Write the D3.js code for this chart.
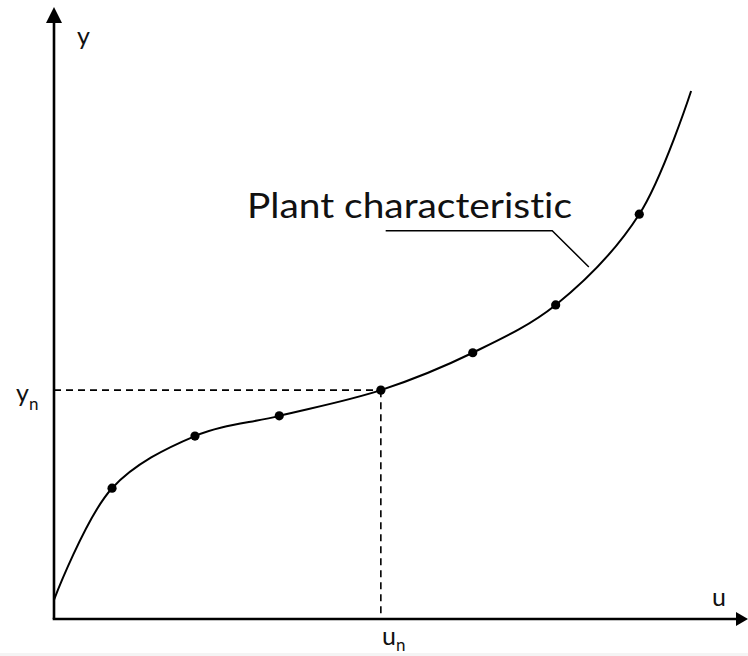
<!DOCTYPE html>
<html>
<head>
<meta charset="utf-8">
<script src="https://cdn.jsdelivr.net/npm/d3@7"></script>
<style>
  html, body { margin: 0; padding: 0; background: #fff; }
  svg { display: block; }
  text { font-family: Lato, "Open Sans", sans-serif; fill: #111;
         font-variant-ligatures: none; font-feature-settings: "liga" 0, "clig" 0; }
</style>
</head>
<body>
<svg id="chart" width="748" height="656"></svg>
<script>
// ---- data (arbitrary units 0..100 on both axes) ----
const curveU = [0, 8.4, 20.4, 32.6, 47.3, 60.6, 72.6, 84.7, 92.2];
const curveY = [3.3, 21.5, 30.0, 33.3, 37.5, 43.6, 51.4, 66.2, 86.3];
const dotU = [8.4, 20.4, 32.6, 47.3, 60.6, 72.6, 84.7];
const dotY = [21.5, 30.0, 33.3, 37.5, 43.6, 51.4, 66.2];
const operatingU = 47.3;
const operatingY = 37.5;
const leaderU = [48.0, 72.1, 77.4];
const leaderY = [63.5, 63.5, 57.6];
const labelText = "Plant characteristic";
const axisLabels = { x: "u", y: "y", xn: "u", yn: "y", sub: "n" };

const svg = d3.select("#chart");
const x = d3.scaleLinear().domain([0, 100]).range([54, 745]);
const y = d3.scaleLinear().domain([0, 100]).range([620, 7]);

// faint bottom band
svg.append("rect").attr("x", 0).attr("y", 653).attr("width", 748).attr("height", 3).attr("fill", "#f4f4f4");

// dashed guides
svg.append("line")
  .attr("x1", x(0)).attr("y1", y(operatingY)).attr("x2", x(operatingU)).attr("y2", y(operatingY))
  .attr("stroke", "#000").attr("stroke-width", 1.6).attr("stroke-dasharray", "7,5");
svg.append("line")
  .attr("x1", x(operatingU)).attr("y1", y(operatingY)).attr("x2", x(operatingU)).attr("y2", y(0))
  .attr("stroke", "#000").attr("stroke-width", 1.6).attr("stroke-dasharray", "7,5");

// axes
const ax = svg.append("g");
ax.append("line").attr("x1", x(0)).attr("y1", y(0) - 1).attr("x2", x(0)).attr("y2", y(100) + 12)
  .attr("stroke", "#000").attr("stroke-width", 2.6);
ax.append("line").attr("x1", x(0) - 1.3).attr("y1", y(0) - 1).attr("x2", 740).attr("y2", y(0) - 1)
  .attr("stroke", "#000").attr("stroke-width", 2.6);
// arrowheads
ax.append("path")
  .attr("d", `M${x(0)},${y(100)} L${x(0) - 8},${y(100) + 16} L${x(0) + 8},${y(100) + 16} Z`)
  .attr("fill", "#000");
ax.append("path")
  .attr("d", `M748,${y(0) - 1} L736,${y(0) - 8} L736,${y(0) + 6} Z`)
  .attr("fill", "#000");

// curve
const pts = curveU.map((u, i) => [u, curveY[i]]);
const line = d3.line().x(d => x(d[0])).y(d => y(d[1])).curve(d3.curveCatmullRom.alpha(0.5));
svg.append("path").datum(pts).attr("d", line)
  .attr("fill", "none").attr("stroke", "#000").attr("stroke-width", 2);

// dots
svg.selectAll("circle.dot").data(dotU.map((u, i) => [u, dotY[i]])).enter()
  .append("circle").attr("class", "dot")
  .attr("cx", d => x(d[0])).attr("cy", d => y(d[1])).attr("r", 4.6).attr("fill", "#000");

// leader line
const lpts = leaderU.map((u, i) => [u, leaderY[i]]);
svg.append("path").datum(lpts)
  .attr("d", d3.line().x(d => x(d[0])).y(d => y(d[1])))
  .attr("fill", "none").attr("stroke", "#000").attr("stroke-width", 1.5);

// label
svg.append("text").attr("x", 247).attr("y", 218)
  .attr("font-size", 35).attr("textLength", 325).attr("lengthAdjust", "spacingAndGlyphs")
  .text(labelText);

// axis labels
svg.append("text").attr("x", 77).attr("y", 45).attr("font-size", 25).text(axisLabels.y);
svg.append("text").attr("x", 712).attr("y", 606).attr("font-size", 25).text(axisLabels.x);

const yn = svg.append("text").attr("x", 16).attr("y", 402).attr("font-size", 25);
yn.append("tspan").text(axisLabels.yn);
yn.append("tspan").attr("font-size", 17).attr("dy", 8).text(axisLabels.sub);

const un = svg.append("text").attr("x", 382).attr("y", 645).attr("font-size", 25);
un.append("tspan").text(axisLabels.xn);
un.append("tspan").attr("font-size", 17).attr("dy", 6).text(axisLabels.sub);
</script>
</body>
</html>
